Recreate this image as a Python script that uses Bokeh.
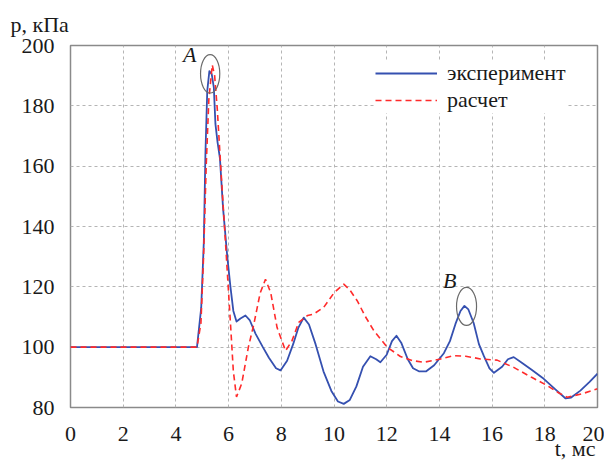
from bokeh.plotting import figure
from bokeh.models import Label, Legend, LegendItem, FixedTicker, Range1d, Title
from bokeh.embed import file_html
from bokeh.resources import INLINE

# experiment (blue, solid)
exp_t = [0, 4.8, 4.96, 5.06, 5.12, 5.19, 5.27, 5.36, 5.44, 5.5, 5.58, 5.67, 5.79, 5.95,
         6.07, 6.18, 6.3, 6.45, 6.64, 6.8, 7.02, 7.3, 7.53, 7.8, 7.97, 8.22, 8.45, 8.65, 8.85, 9.05,
         9.3, 9.6, 9.9, 10.15, 10.37, 10.6, 10.85, 11.1, 11.38, 11.6, 11.76, 12.0, 12.2, 12.37, 12.55, 12.8,
         13.0, 13.22, 13.5, 13.8, 14.17, 14.4, 14.61, 14.8, 14.95, 15.1, 15.3, 15.5, 15.69,
         15.9, 16.07, 16.38, 16.6, 16.82, 17.1, 17.5, 17.96, 18.4, 18.79, 19.0, 19.35, 19.7, 20.0]
exp_p = [100, 100, 113, 135, 164, 185, 191.5, 190.5, 186, 174, 168, 162.7, 146, 130,
         120, 112, 108.5, 109.5, 110.5, 109, 104.5, 100, 96.5, 93, 92.3, 95.5, 101, 106.5, 109.8, 107.5,
         101, 92, 85.5, 82, 81.2, 82.5, 87, 93.5, 97, 96, 95, 97.5, 102, 103.8, 101.5, 96,
         93, 92, 92, 94, 98, 102, 107.7, 112, 113.7, 112.5, 108, 101, 97,
         93, 91.5, 93.5, 96, 96.7, 95, 92.5, 89.5, 86, 83, 83.3, 85.6, 88.5, 91.2]

# calculation (red, dashed)
calc_t = [0, 4.8, 4.95, 5.05, 5.15, 5.25, 5.38, 5.47, 5.57, 5.7, 5.88, 6.07, 6.18, 6.3,
          6.5, 6.75, 6.96, 7.2, 7.4, 7.6, 7.84, 8.16, 8.4, 8.66, 9.0, 9.23, 9.61, 10.0,
          10.37, 10.6, 10.88, 11.2, 11.51, 12.02, 12.52, 13.0, 13.41, 14.0, 14.55, 15.0,
          15.56, 16.19, 16.82, 17.5, 18.09, 18.5, 18.85, 19.4, 20.0]
calc_p = [100, 100, 108, 130, 160, 182, 193.6, 190, 179, 160, 135, 108, 92, 83.5,
          88, 100, 107.7, 118, 122.5, 118, 106.5, 98.8, 102, 108.2, 110.5, 111, 113.2, 118,
          120.9, 119, 115.4, 110, 105.5, 100, 96.9, 95.5, 95, 96, 97.2, 97,
          96.1, 95.7, 93.3, 90, 87.3, 85, 83.4, 84.5, 86.2]

x_ticks = [0, 2, 4, 6, 8, 10, 12, 14, 16, 18, 20]
y_ticks = [80, 100, 120, 140, 160, 180, 200]

legend_labels = ["эксперимент", "расчет"]
y_title = "p, кПа"
x_title = "t, мс"

# marked peaks
marks_t = [5.3, 15.03]
marks_p = [190.6, 113.5]
marks_w = [0.73, 0.76]
marks_h = [12.7, 12.6]
mark_names = ["A", "B"]
mark_label_t = [4.78, 14.65]
mark_label_p = [193.0, 118.0]

FONT = "Liberation Serif"
BLUE = "#3550b0"
RED = "#ff2b2b"
TXT = "#1a1a1a"

p = figure(width=604, height=462, output_backend="svg", toolbar_location=None,
           x_range=Range1d(0, 20), y_range=Range1d(80, 200),
           min_border_left=70, min_border_right=7, min_border_top=44, min_border_bottom=55)

p.title = Title(text=y_title, align="left", offset=-60, standoff=18,
                text_font=FONT, text_font_size="22px", text_font_style="normal",
                text_color=TXT)
p.add_layout(Title(text=x_title, align="right", offset=2, standoff=-16,
                   vertical_align="top",
                   text_font=FONT, text_font_size="22px", text_font_style="normal",
                   text_color=TXT), "below")

p.background_fill_color = "white"
p.outline_line_color = "#8a8a8a"
p.outline_line_width = 1.5

for ax in (p.xaxis, p.yaxis):
    ax.axis_line_color = None
    ax.major_tick_line_color = None
    ax.minor_tick_line_color = None
    ax.major_label_text_font = FONT
    ax.major_label_text_font_size = "22px"
    ax.major_label_text_color = TXT
    ax.major_label_standoff = 10
p.xaxis.ticker = FixedTicker(ticks=x_ticks)
p.yaxis.ticker = FixedTicker(ticks=y_ticks)
p.xaxis.major_label_standoff = 13

for g in (p.xgrid, p.ygrid):
    g.grid_line_color = "#b5b5b5"
    g.grid_line_dash = "3 3"
    g.grid_line_width = 1
p.xgrid.ticker = FixedTicker(ticks=x_ticks)
p.ygrid.ticker = FixedTicker(ticks=y_ticks)

r_exp = p.line(exp_t, exp_p, line_color=BLUE, line_width=1.8, line_join="round")
r_calc = p.line(calc_t, calc_p, line_color=RED, line_width=1.6, line_dash="6 4")

p.ellipse(x=marks_t, y=marks_p, width=marks_w, height=marks_h,
          fill_color=None, line_color="#6a6a6a", line_width=1.2)

for name, lt, lp in zip(mark_names, mark_label_t, mark_label_p):
    p.add_layout(Label(x=lt, y=lp, text=name, text_font=FONT, text_font_style="italic",
                       text_font_size="22px", text_align="right", text_color=TXT))

legend = Legend(items=[LegendItem(label=legend_labels[0], renderers=[r_exp]),
                       LegendItem(label=legend_labels[1], renderers=[r_calc])],
                location=(305, 294), margin=0, padding=8, spacing=1,
                glyph_width=62, glyph_height=22, label_height=22, label_standoff=10,
                label_text_font=FONT, label_text_font_size="22px", label_text_color=TXT,
                border_line_color=None, background_fill_color="white", background_fill_alpha=1)
p.add_layout(legend)

open("out.html", "w").write(file_html(p, INLINE))
